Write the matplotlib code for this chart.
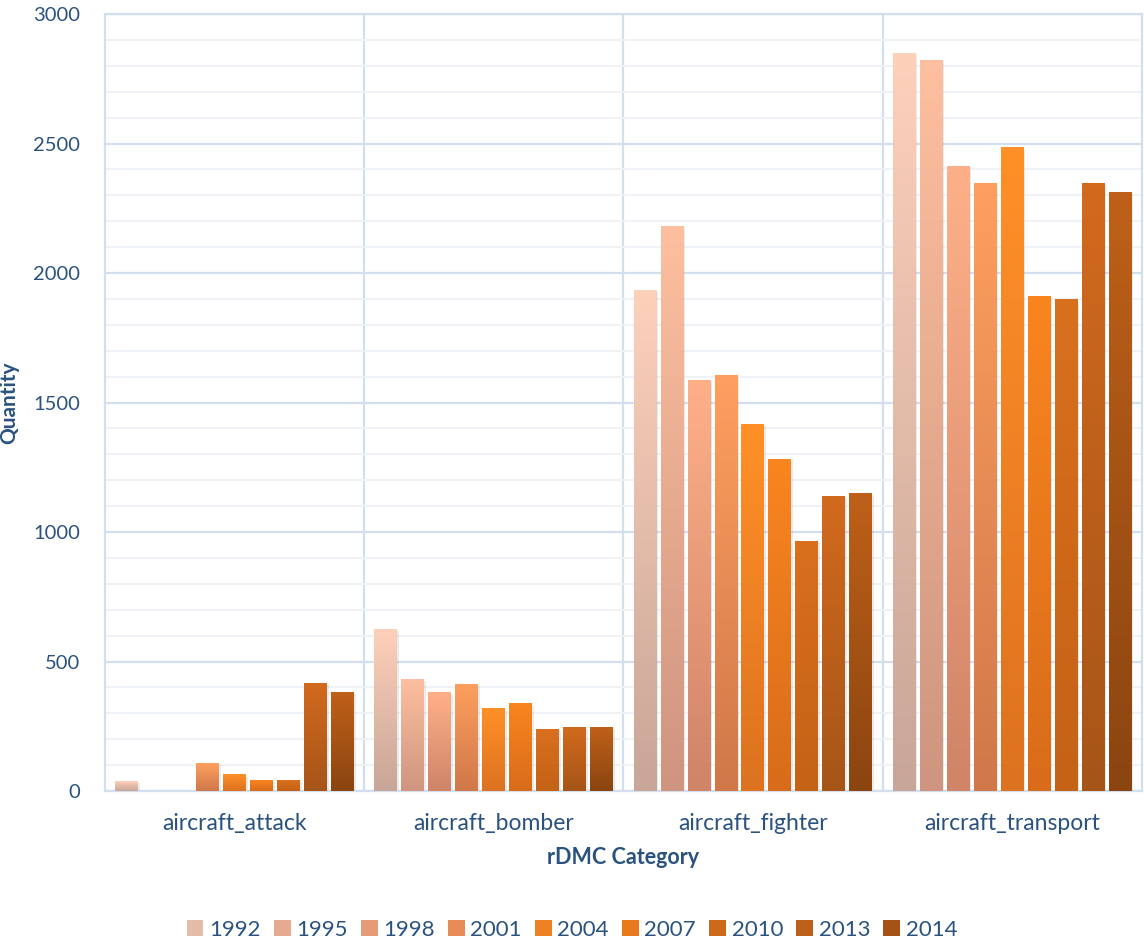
import numpy as np
import matplotlib.pyplot as plt
from matplotlib.colors import to_rgb
from matplotlib.patches import Patch

categories = ['aircraft_attack', 'aircraft_bomber', 'aircraft_fighter', 'aircraft_transport']
years = ['1992', '1995', '1998', '2001', '2004', '2007', '2010', '2013', '2014']

q1992 = [35, 622, 1931, 2849]
q1995 = [0, 429, 2178, 2819]
q1998 = [0, 382, 1587, 2413]
q2001 = [108, 413, 1606, 2347]
q2004 = [62, 317, 1417, 2483]
q2007 = [42, 336, 1282, 1911]
q2010 = [42, 239, 965, 1896]
q2013 = [417, 247, 1139, 2347]
q2014 = [382, 247, 1147, 2313]
series = [q1992, q1995, q1998, q2001, q2004, q2007, q2010, q2013, q2014]

# top / bottom colours of each year's gradient
tops = ['#FDD0BA', '#FDBF9F', '#FDB088', '#FD9F5E', '#FF9028', '#F9851F', '#D8701E', '#D26A1E', '#BE6019']
bottoms = ['#C8A698', '#CF9580', '#D08468', '#D0784A', '#DD7220', '#D86C1A', '#C46216', '#A65518', '#8B4511']

text_col = '#2A5280'
plt.rcParams['font.family'] = ['Lato', 'DejaVu Sans']

fig = plt.figure(figsize=(11.44, 9.4), dpi=100)
ax = fig.add_axes([0.0918, 0.1585, 0.9062, 0.8265])

x = np.arange(len(categories))
slot = 27 / 259.5
width = 23 / 259.5

for i, vals in enumerate(series):
    top = np.array(to_rgb(tops[i]))
    bot = np.array(to_rgb(bottoms[i]))
    grad = np.linspace(0, 1, 64)[:, None, None]
    img = top * (1 - grad) + bot * grad
    for j, v in enumerate(vals):
        if v <= 0:
            continue
        cx = x[j] + (i - 4) * slot
        # soft shadow
        ax.bar(cx + 0.006, v, width=width, bottom=-6, color='#000000', alpha=0.08, zorder=2, linewidth=0)
        ax.imshow(img, extent=[cx - width / 2, cx + width / 2, 0, v], aspect='auto',
                  interpolation='bilinear', zorder=3)

ax.set_xlim(-0.5, 3.5)
ax.set_ylim(0, 3000)

ax.set_yticks(np.arange(0, 3001, 500))
ax.set_yticks(np.arange(0, 3001, 100), minor=True)
ax.grid(axis='y', which='major', color='#D3DFEE', linewidth=1.6, zorder=0)
ax.grid(axis='y', which='minor', color='#EEF2F7', linewidth=1.3, zorder=0)
for b in [0.5, 1.5, 2.5]:
    ax.axvline(b, color='#D3DFEE', linewidth=1.6, zorder=0)
ax.set_axisbelow(True)

for s in ax.spines.values():
    s.set_color('#D3DFEE')
    s.set_linewidth(1.6)

ax.set_xticks(x)
ax.set_xticklabels(categories)
ax.tick_params(axis='both', which='both', length=0, colors=text_col)
ax.tick_params(axis='y', pad=18, labelsize=14.5)
ax.tick_params(axis='x', pad=16, labelsize=16.5)

ax.set_ylabel('Quantity', fontsize=15, fontweight='bold', color=text_col, labelpad=10)
ax.set_xlabel('rDMC Category', fontsize=15.5, fontweight='bold', color=text_col, labelpad=9)

handles = [Patch(facecolor=tuple((np.array(to_rgb(t)) + np.array(to_rgb(b))) / 2), label=y)
           for t, b, y in zip(tops, bottoms, years)]
fig.legend(handles=handles, loc='lower center', ncol=9, frameon=False, fontsize=16,
           bbox_to_anchor=(0.5, -0.021), handlelength=0.75, handleheight=0.75,
           handletextpad=0.25, columnspacing=0.6, labelcolor=text_col)

fig.savefig('out.png', dpi=100)
